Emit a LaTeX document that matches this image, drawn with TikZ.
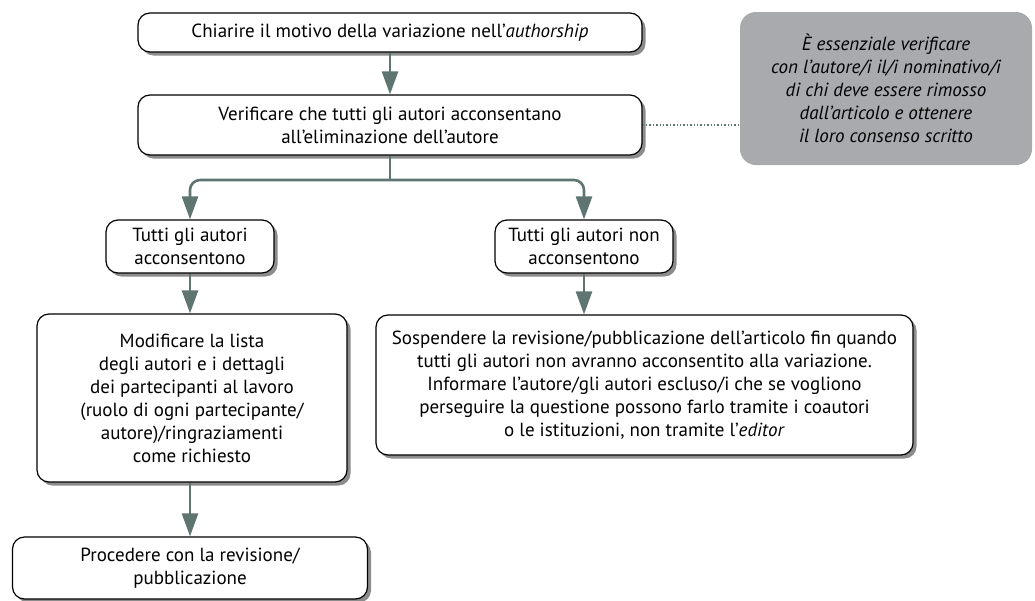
\documentclass[tikz,border=0pt]{standalone}
\usepackage{fontspec}
\setmainfont{PT Sans}
\usetikzlibrary{arrows.meta,shadows}
\definecolor{flowcol}{RGB}{94,117,113}
\definecolor{notegray}{RGB}{168,170,173}
\newcommand{\boxfont}{\fontsize{19}{23}\selectfont}
\tikzset{
	box/.style={draw=black, line width=1.2pt, rounded corners=12pt, fill=white,
		align=center, inner sep=0pt,
		drop shadow={shadow xshift=3.5pt, shadow yshift=-3.5pt, fill=black!45, opacity=1}},
	note/.style={fill=notegray, rounded corners=16pt, align=center, inner sep=0pt,
		font=\boxfont\itshape},
	flow/.style={draw=flowcol, line width=2.6pt, -{Triangle[length=23pt,width=16pt]}},
	flowline/.style={draw=flowcol, line width=2.6pt},
	link/.style={draw=flowcol, line width=1.4pt, dotted}
}
\begin{document}
\begin{tikzpicture}[x=1pt,y=1pt,font=\boxfont]
	\useasboundingbox (0,0) rectangle (1035,-600);
	\node[box, minimum width=504pt, minimum height=39pt] (claim) at (390,-32.5)
		{Chiarire il motivo della variazione nell'\textit{authorship}};
	\node[box, minimum width=504pt, minimum height=60pt] (verif) at (390,-125)
		{Verificare che tutti gli autori acconsentano\\all'eliminazione dell'autore};
	\node[note, minimum width=292pt, minimum height=153pt] (note) at (886,-88.5)
		{È essenziale verificare\\con l'autore/i il/i nominativo/i\\di chi deve essere rimosso\\dall'articolo e ottenere\\il loro consenso scritto};
	\coordinate (split) at (390,-180);
	\node[box, minimum width=168pt, minimum height=53pt] (yes) at (190,-246.5)
		{Tutti gli autori\\acconsentono};
	\node[box, minimum width=178pt, minimum height=53pt] (no) at (584,-246.5)
		{Tutti gli autori non\\acconsentono};
	\node[box, minimum width=310pt, minimum height=168pt] (modify) at (192,-398)
		{Modificare la lista\\degli autori e i dettagli\\dei partecipanti al lavoro\\(ruolo di ogni partecipante/\\autore)/ringraziamenti\\come richiesto};
	\node[box, minimum width=537pt, minimum height=140pt] (susp) at (644.5,-385)
		{Sospendere la revisione/pubblicazione dell'articolo fin quando\\tutti gli autori non avranno acconsentito alla variazione.\\Informare l'autore/gli autori escluso/i che se vogliono\\perseguire la questione possono farlo tramite i coautori\\o le istituzioni, non tramite l'\textit{editor}};
	\node[box, minimum width=355pt, minimum height=62pt] (proc) at (190,-568)
		{Procedere con la revisione/\\pubblicazione};
	% connectors
	\draw[flow] (claim) -- (verif);
	\draw[link] (verif.east) -- (note.west |- verif.east);
	\draw[flowline] (verif.south) -- (split);
	\draw[flow, rounded corners=10pt] (split) -| (yes.north);
	\draw[flow, rounded corners=10pt] (split) -| (no.north);
	\draw[flow] (yes.south) -- (yes.south |- modify.north);
	\draw[flow] (no.south) -- (no.south |- susp.north);
	\draw[flow] (yes.south |- modify.south) -- (proc.north);
\end{tikzpicture}
\end{document}
